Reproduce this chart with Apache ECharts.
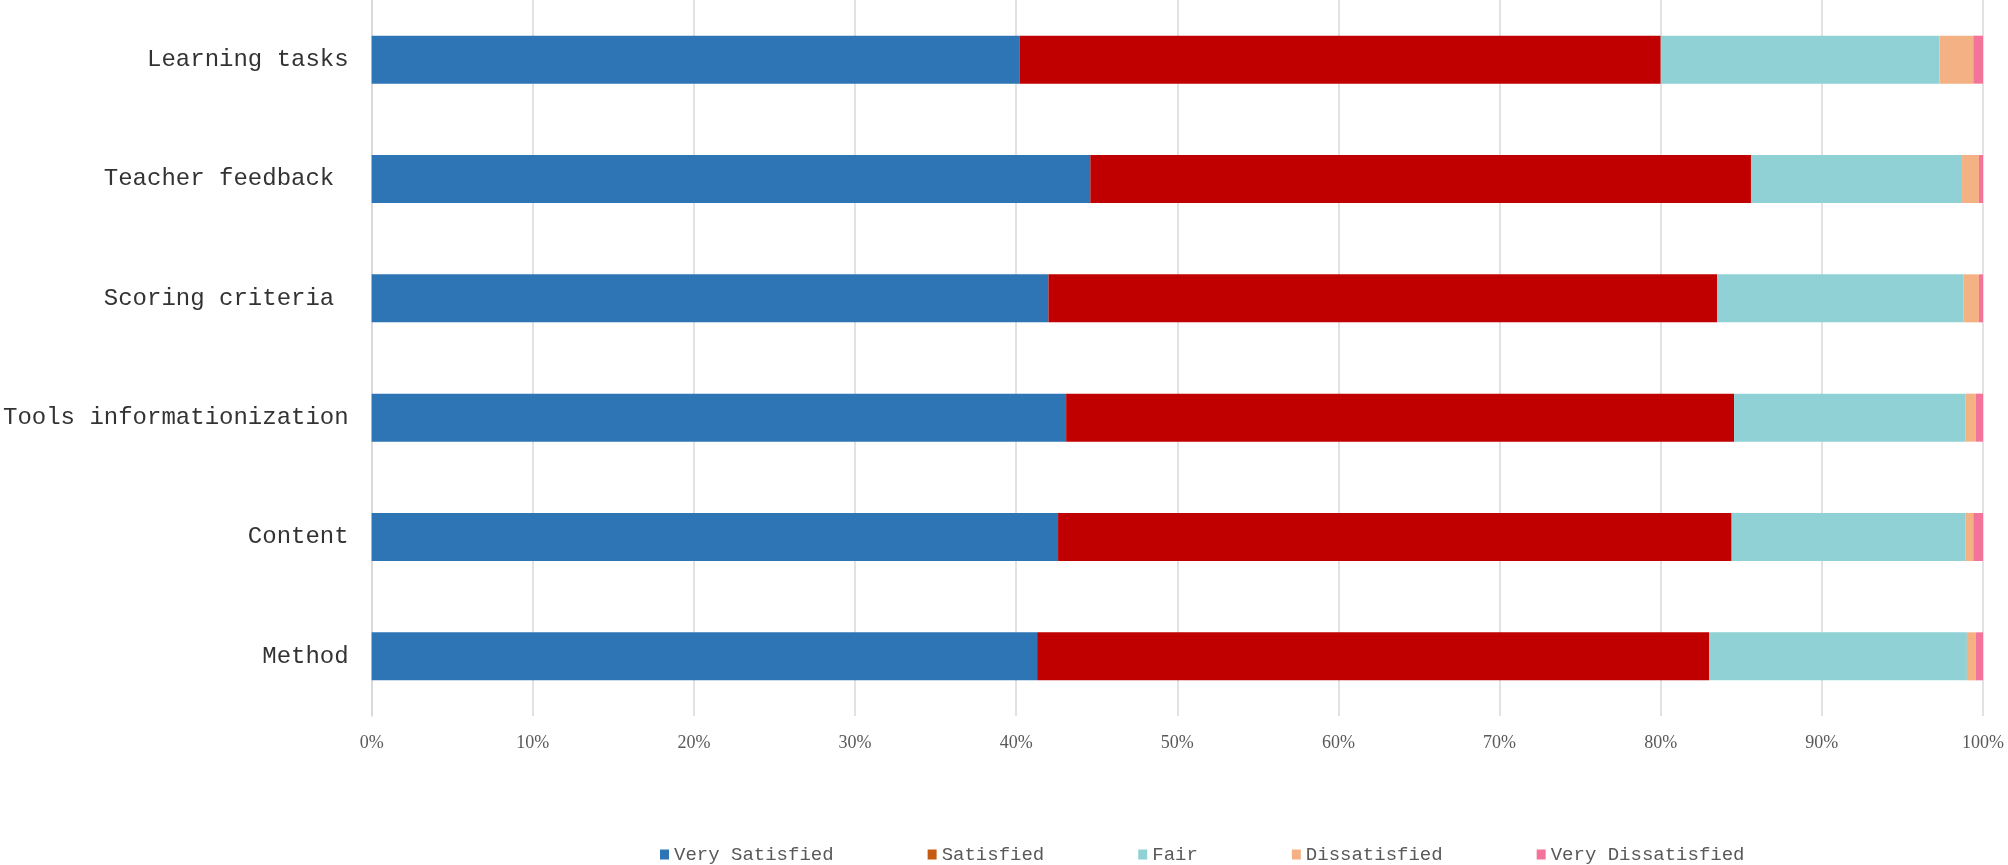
<!DOCTYPE html>
<html>
<head>
<meta charset="utf-8">
<script src="https://cdn.jsdelivr.net/npm/echarts@6/dist/echarts.min.js"></script>
<style>html,body{margin:0;padding:0;background:#fff;}#c{width:2008px;height:865px;}</style>
</head>
<body>
<div id="c"></div>
<script>
const categories = ["Learning tasks", "Teacher feedback ", "Scoring criteria ", "Tools informationization", "Content", "Method"];
const seriesNames = ["Very Satisfied", "Satisfied", "Fair", "Dissatisfied", "Very Dissatisfied"];
const verySatisfied = [40.2, 44.6, 42.0, 43.1, 42.6, 41.3];
const satisfied = [39.8, 41.0, 41.5, 41.45, 41.8, 41.7];
const fair = [17.3, 13.1, 15.3, 14.35, 14.5, 16.0];
const dissatisfied = [2.1, 1.05, 0.95, 0.65, 0.5, 0.55];
const veryDissatisfied = [0.6, 0.25, 0.25, 0.45, 0.6, 0.45];
const xTicks = [0, 10, 20, 30, 40, 50, 60, 70, 80, 90, 100];

const barColors = ["#2E75B6", "#C00000", "#8FD1D5", "#F4B183", "#F4739A"];
const legendColors = ["#2E75B6", "#C55A11", "#8FD1D5", "#F4B183", "#F4739A"];
const values = [verySatisfied, satisfied, fair, dissatisfied, veryDissatisfied];

const chart = echarts.init(document.getElementById('c'), null, {renderer: 'canvas'});
chart.setOption({
  animation: false,
  backgroundColor: '#ffffff',
  grid: {left: 371, right: 25, top: 0, bottom: 149, containLabel: false},
  legend: {
    left: 660, top: 845, padding: 0,
    icon: 'rect', itemWidth: 9, itemHeight: 10, itemGap: 94,
    textStyle: {fontFamily: 'Liberation Mono', fontSize: 19, color: '#595959'},
    data: seriesNames.map((n, i) => ({name: n, itemStyle: {color: legendColors[i]}}))
  },
  xAxis: {
    type: 'value', min: xTicks[0], max: xTicks[xTicks.length - 1], interval: 10,
    axisLine: {show: false}, axisTick: {show: false},
    splitLine: {show: true, lineStyle: {color: '#D9D9D9', width: 1.5}},
    axisLabel: {formatter: '{value}%', margin: 18, fontFamily: 'Liberation Serif', fontSize: 18, color: '#595959'}
  },
  yAxis: {
    type: 'category', data: categories, inverse: true,
    axisLine: {show: true, lineStyle: {color: '#D9D9D9', width: 1.5}},
    axisTick: {show: false},
    axisLabel: {margin: 23, fontFamily: 'Liberation Mono', fontSize: 24, color: '#333333'}
  },
  series: seriesNames.map((n, i) => ({
    name: n, type: 'bar', stack: 'total', barWidth: 48,
    itemStyle: {color: barColors[i]},
    data: values[i]
  }))
});
</script>
</body>
</html>
